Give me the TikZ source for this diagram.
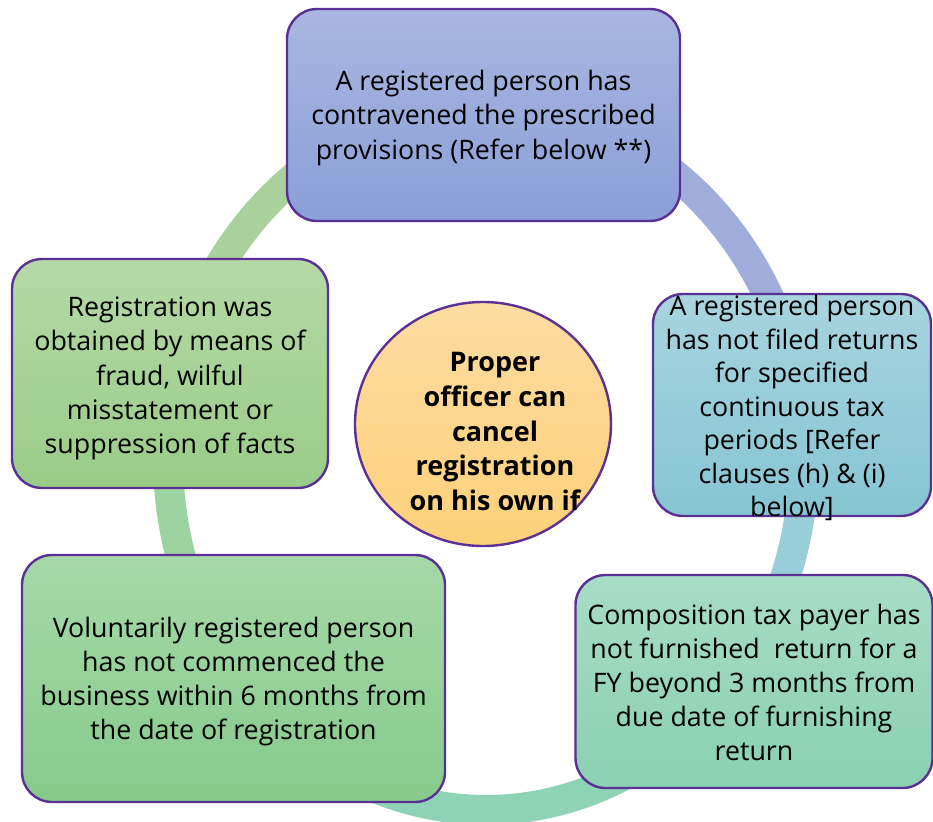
\documentclass[tikz,border=0pt]{standalone}
\usepackage{fontspec}
\setmainfont{Open Sans}
\usetikzlibrary{shapes.geometric}
\definecolor{bord}{HTML}{5A3094}
\definecolor{ringA}{HTML}{AAD09C}
\definecolor{ringB}{HTML}{A0ADDB}
\definecolor{ringC}{HTML}{98CDD9}
\definecolor{ringD}{HTML}{8ED3B5}
\definecolor{ringE}{HTML}{9DD3A0}
\definecolor{b1t}{HTML}{A9B6E0}\definecolor{b1b}{HTML}{8A9FD8}
\definecolor{b2t}{HTML}{A8D4DF}\definecolor{b2b}{HTML}{86C5D3}
\definecolor{b3t}{HTML}{A8DCC6}\definecolor{b3b}{HTML}{8AD0B2}
\definecolor{b4t}{HTML}{A6D8A9}\definecolor{b4b}{HTML}{86CB8A}
\definecolor{b5t}{HTML}{B5D9A6}\definecolor{b5b}{HTML}{9ACC88}
\definecolor{ct}{HTML}{FDDCA2}\definecolor{cb}{HTML}{FDD079}
\tikzset{
  box/.style={draw=bord, line width=2.4pt, rounded corners=30pt, inner sep=0pt},
  txt/.style={align=center, font=\fontsize{26.8}{34.2}\selectfont, text=black, inner sep=0pt},
  ctxt/.style={align=center, font=\fontsize{27}{34.8}\selectfont\bfseries, text=black, inner sep=0pt},
  ringseg/.style={line width=30pt},
}
\begin{document}
\begin{tikzpicture}[x=1pt,y=-1pt]
\useasboundingbox (0,0) rectangle (933,821);
% ring
\draw[ringseg, ringA] plot[domain=198:272, samples=60] ({486+318*cos(\x)}, {458+352*sin(\x)});
\draw[ringseg, ringB] plot[domain=268:352, samples=60] ({486+318*cos(\x)}, {458+352*sin(\x)});
\draw[ringseg, ringC] plot[domain=348:407, samples=60] ({486+318*cos(\x)}, {458+352*sin(\x)});
\draw[ringseg, ringD] plot[domain=43:122, samples=60] ({486+318*cos(\x)}, {458+352*sin(\x)});
\draw[ringseg, ringE] plot[domain=118:202, samples=60] ({486+318*cos(\x)}, {458+352*sin(\x)});
% boxes
\node[box, top color=b1t, bottom color=b1b, minimum width=393pt, minimum height=212pt] (b1) at (483.5,115) {};
\node[txt] (t1) at (483.5,118) {A registered person has\\contravened the prescribed\\provisions (Refer below **)};
\node[box, top color=b2t, bottom color=b2b, minimum width=278pt, minimum height=222pt] (b2) at (792,405) {};
\node[txt, font=\fontsize{26.8}{33.5}\selectfont] (t2) at (792,408) {A registered person\\has not filed returns\\for specified\\continuous tax\\periods [Refer\\clauses (h) \& (i)\\below]};
\node[box, top color=b3t, bottom color=b3b, minimum width=357pt, minimum height=213pt] (b3) at (754,681.5) {};
\node[txt] (t3) at (754,682.5) {Composition tax payer has\\not furnished\ \ return for a\\FY beyond 3 months from\\due date of furnishing\\return};
\node[box, top color=b4t, bottom color=b4b, minimum width=423pt, minimum height=247pt] (b4) at (233.5,678.5) {};
\node[txt] (t4) at (233.5,681.5) {Voluntarily registered person\\has not commenced the\\business within 6 months from\\the date of registration};
\node[box, top color=b5t, bottom color=b5b, minimum width=316pt, minimum height=229pt] (b5) at (170,373.5) {};
\node[txt] (t5) at (170,378.5) {Registration was\\obtained by means of\\fraud, wilful\\misstatement or\\suppression of facts};
% centre
\node[ellipse, draw=bord, line width=2.4pt, top color=ct, bottom color=cb, minimum width=256pt, minimum height=244pt, inner sep=0pt] (c) at (483,424) {};
\node[ctxt] (ct) at (495,431.5) {Proper\\officer can\\cancel\\registration\\on his own if};
\end{tikzpicture}
\end{document}
